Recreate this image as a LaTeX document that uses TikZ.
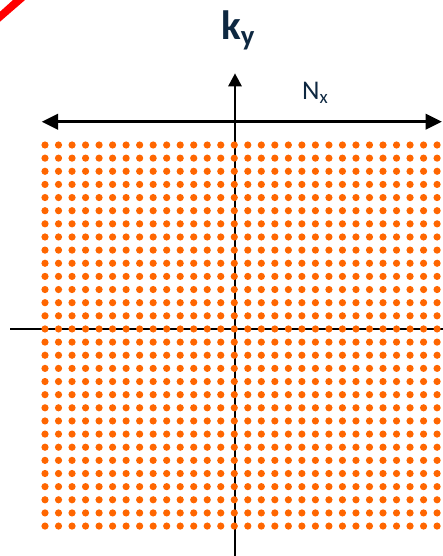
\documentclass[tikz,border=0pt]{standalone}
\usepackage{fontspec}
\setmainfont{Carlito}
\usepackage{xcolor}
\usetikzlibrary{arrows.meta}

\definecolor{dotorange}{RGB}{255,102,0}
\definecolor{labelnavy}{RGB}{14,40,65}

\begin{document}
\begin{tikzpicture}[x=1pt, y=-1pt,
    axisline/.style={line width=2.8pt, black},
    kdot/.style={fill=dotorange}]
    \useasboundingbox (0,0) rectangle (443,556);
    % red corner band
    \fill[red] (0,11.7) -- (13,0) -- (25,0) -- (0,21.7) -- cycle;

    % axes
    \coordinate (axl) at (10,329);
    \coordinate (axr) at (443,329);
    \coordinate (ayb) at (235,556);
    \coordinate (ayt) at (235,73.3);
    \draw[axisline] (axl) -- (axr);
    \draw[axisline, -{Triangle[length=13pt, width=13pt]}] (ayb) -- (ayt);

    % width arrow
    \coordinate (nxl) at (41.7,121.7);
    \coordinate (nxr) at (442,121.7);
    \draw[axisline, {Triangle[length=16.5pt, width=15.5pt]}-{Triangle[length=16.5pt, width=15.5pt]}] (nxl) -- (nxr);

    % k-space samples
    \foreach \i in {0,...,29} {
        \foreach \j in {0,...,29} {
            \fill[kdot] (45+\i*13.52, 145+\j*13.14) circle[radius=3.6pt];
        }
    }

    \node[font=\fontsize{41}{41}\selectfont\bfseries, text=labelnavy, anchor=base west, inner sep=0pt] (kylabel) at (221,40) {k\textsubscript{y}};
    \node[font=\fontsize{27}{27}\selectfont, text=labelnavy, anchor=base west, inner sep=0pt] (nxlabel) at (302,100) {N\textsubscript{x}};
\end{tikzpicture}
\end{document}
